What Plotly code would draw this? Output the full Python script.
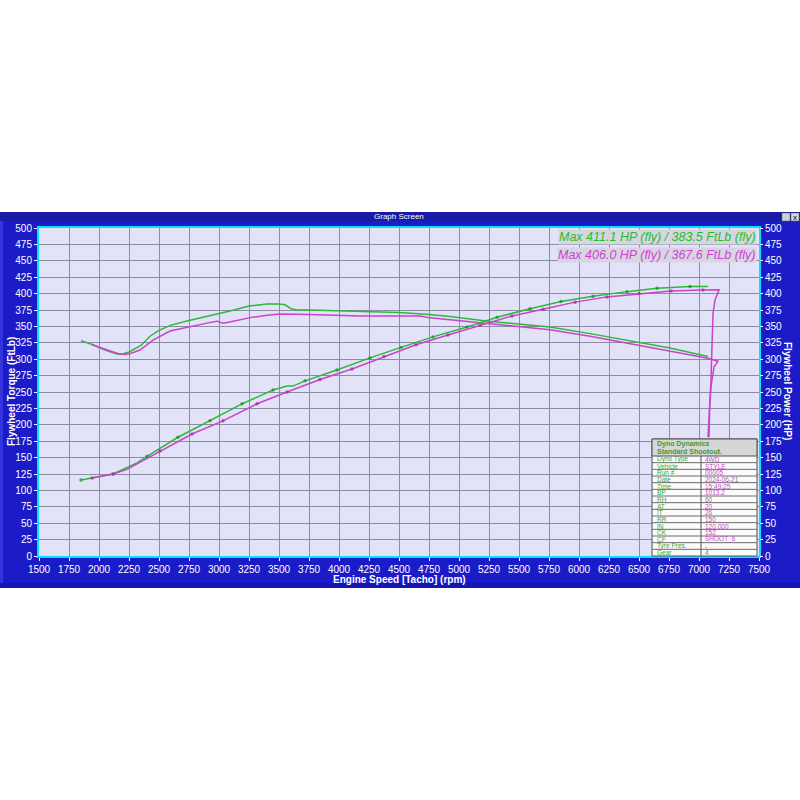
import plotly.graph_objects as go

# ---------------- data ----------------
rpm_g_tq = [1850, 1950, 2050, 2150, 2200, 2250, 2350, 2425, 2500, 2600, 2750, 3000, 3100, 3250, 3400,
            3500, 3550, 3600, 3650, 3750, 4000, 4250, 4500, 4750, 4925, 5242, 5483, 5758, 6092, 6425,
            6758, 7075]
tq_g = [328, 322, 314, 308, 308, 311, 321, 335, 344, 352, 359, 369, 374, 381, 384,
        384, 383, 377, 375, 375, 374, 373, 371, 368, 365, 358, 354, 349, 339, 328.5,
        317, 304]

rpm_m_tq = [1942, 2050, 2150, 2200, 2250, 2342, 2450, 2592, 2758, 2900, 2983, 3033, 3100, 3250, 3400,
            3508, 3750, 4000, 4175, 4500, 4675, 4758, 4925, 5242, 5483, 5758, 6092, 6425, 6758, 7075,
            7158, 7125, 7100, 7090, 7083]
tq_m = [322, 315, 309, 307, 308, 314, 329, 343, 350, 355, 358, 355, 357, 363, 367,
        369, 368, 367, 366, 366, 366, 363, 360, 355, 351, 345, 335, 323.5, 312, 301.5,
        297, 288, 258, 230, 181]

rpm_g_pw = [1850, 2117, 2317, 2400, 2658, 2925, 3192, 3450, 3567, 3617, 3717, 3983, 4258, 4517, 4783,
            5067, 5317, 5592, 5850, 6117, 6400, 6650, 6925, 7075]
pw_g = [116, 125, 142, 152, 181, 206, 232, 253, 259, 259, 267, 283.5, 302, 318, 334,
        349, 364, 377, 388, 396, 403, 408, 411, 411]
dots_g = [1, 1, 0, 1, 1, 1, 1, 1, 0, 0, 1, 1, 1, 1, 1, 1, 1, 1, 1, 1, 1, 1, 1, 0]

rpm_m_pw = [1942, 2117, 2233, 2508, 2775, 3033, 3317, 3567, 3842, 4108, 4375, 4642, 4908, 5175, 5442,
            5700, 5967, 6233, 6500, 6767, 7033, 7167, 7133, 7117, 7108, 7100, 7075]
pw_m = [119, 125, 132, 160, 186, 206, 232, 250, 269, 285, 304, 322, 337, 352, 366,
        376, 387, 395, 400, 404, 405.5, 406, 390, 370, 319, 268, 181]
dots_m = [1, 1, 0, 1, 1, 1, 1, 1, 1, 1, 1, 1, 1, 1, 1, 1, 1, 1, 1, 1, 1, 0, 0, 0, 0, 0, 0]

legend_texts = ["Max 411.1 HP (fly) / 383.5 FtLb (fly)", "Max 406.0 HP (fly) / 367.6 FtLb (fly)"]

table_title = ["Dyno Dynamics", "Standard Shootout."]
table_labels = ["Dyno Type", "Vehicle", "Run #", "Date", "Time", "BP", "RH", "AT", "IT", "RR",
                "IN", "CK", "CF", "Tyre Pres.", "Gear"]
table_values = ["4WD", "STYLE", "00005", "2024-06-21", "15:49:25", "1013.2", "60", "20", "26", "150",
                "120.000", "152", "SHOOT_6", "-", "4"]

# ---------------- style ----------------
GREEN = "#2db83a"
MAGENTA = "#c844c8"
GREEN_D = "#178f22"
MAGENTA_D = "#a02aa0"
GREEN_T = "#1fbf1f"
MAGENTA_T = "#d23ed2"
BLUE = "#1b1bc8"
BAR = "#1a1aa6"
LAV = "#e2e2f8"
GRID = "#8c8ca2"
CYAN = "#00e5ff"
FONT = "Arial, Liberation Sans, sans-serif"

# plot area in pixels
PL, PR, PT, PB = 39, 759, 228, 556


def px(xp):
    return (xp - PL) / (PR - PL)


def py(yp):
    return (PB - yp) / (PB - PT)


fig = go.Figure()
fig.add_trace(go.Scatter(x=rpm_g_tq, y=tq_g, mode="lines", line=dict(color=GREEN, width=1.5)))
fig.add_trace(go.Scatter(x=rpm_m_tq, y=tq_m, mode="lines", line=dict(color=MAGENTA, width=1.5)))
fig.add_trace(go.Scatter(x=rpm_g_pw, y=pw_g, mode="lines+markers", yaxis="y2",
                         line=dict(color=GREEN, width=1.5),
                         marker=dict(color=GREEN_D, size=[3.5 if d else 0 for d in dots_g], symbol="circle",
                                     line=dict(width=0))))
fig.add_trace(go.Scatter(x=rpm_m_pw, y=pw_m, mode="lines+markers", yaxis="y2",
                         line=dict(color=MAGENTA, width=1.5),
                         marker=dict(color=MAGENTA_D, size=[3.5 if d else 0 for d in dots_m], symbol="circle",
                                     line=dict(width=0))))

shapes = [
    # window
    dict(type="rect", xref="paper", yref="paper", x0=px(0), x1=px(800), y0=py(588), y1=py(212),
         fillcolor=BLUE, line=dict(width=0), layer="below"),
    dict(type="rect", xref="paper", yref="paper", x0=px(0), x1=px(800), y0=py(221), y1=py(212),
         fillcolor=BAR, line=dict(width=0), layer="below"),
    dict(type="rect", xref="paper", yref="paper", x0=px(0), x1=px(3), y0=py(588), y1=py(221),
         fillcolor="#3434dc", line=dict(width=0), layer="below"),
    dict(type="rect", xref="paper", yref="paper", x0=px(0), x1=px(800), y0=py(588), y1=py(583),
         fillcolor="#1616b4", line=dict(width=0), layer="below"),
    # buttons
    dict(type="rect", xref="paper", yref="paper", x0=px(782), x1=px(790), y0=py(221), y1=py(213),
         fillcolor="#d0d0d0", line=dict(width=0.5, color="#606060"), layer="below"),
    dict(type="rect", xref="paper", yref="paper", x0=px(791), x1=px(799), y0=py(221), y1=py(213),
         fillcolor="#d8d8d8", line=dict(width=0.5, color="#606060"), layer="below"),
    # plot area bg
    dict(type="rect", xref="paper", yref="paper", x0=0, x1=1, y0=0, y1=1,
         fillcolor=LAV, line=dict(width=0), layer="below"),
]

annotations = [
    dict(text="Graph Screen", x=0.5, y=py(216.5), xref="paper", yref="paper", showarrow=False,
         font=dict(family=FONT, size=8, color="white"), xanchor="center", yanchor="middle"),
    dict(text="x", x=px(795), y=py(217), xref="paper", yref="paper", showarrow=False,
         font=dict(family=FONT, size=8, color="black"), xanchor="center", yanchor="middle"),
    dict(text="<b>Flywheel Torque (FtLb)</b>", x=px(11), y=py(392), xref="paper", yref="paper",
         showarrow=False, textangle=-90, font=dict(family=FONT, size=10, color="white"),
         xanchor="center", yanchor="middle"),
    dict(text="<b>Flywheel Power (HP)</b>", x=px(788), y=py(391), xref="paper", yref="paper",
         showarrow=False, textangle=90, font=dict(family=FONT, size=10, color="white"),
         xanchor="center", yanchor="middle"),
    dict(text="<b>Engine Speed [Tacho] (rpm)</b>", x=0.5, y=py(579), xref="paper", yref="paper",
         showarrow=False, font=dict(family=FONT, size=10, color="white"),
         xanchor="center", yanchor="middle"),
]

legend_colors = [GREEN_T, MAGENTA_T]
legend_y = [237, 255]
for t, c, yy in zip(legend_texts, legend_colors, legend_y):
    annotations.append(dict(text="<i>" + t + "</i>", x=px(757), y=py(yy), xref="paper", yref="paper",
                            showarrow=False, font=dict(family=FONT, size=12.5, color=c),
                            xanchor="right", yanchor="middle", bgcolor="#d6d6e2", borderpad=0))

# table
TX0, TX1, TSPLIT = 652, 757, 701
TH0, TH1 = 439, 456
ROW_H = (556 - TH1) / len(table_labels)
shapes.append(dict(type="rect", xref="paper", yref="paper", x0=px(TX0), x1=px(TX1), y0=py(556), y1=py(TH0),
                   fillcolor="#fbfbfb", line=dict(width=1, color="#505050"), layer="above"))
shapes.append(dict(type="rect", xref="paper", yref="paper", x0=px(TX0), x1=px(TX1), y0=py(TH1), y1=py(TH0),
                   fillcolor="#d6d6d6", line=dict(width=1, color="#505050"), layer="above"))
shapes.append(dict(type="line", xref="paper", yref="paper", x0=px(TSPLIT), x1=px(TSPLIT), y0=py(556), y1=py(TH1),
                   line=dict(width=1, color="#505050"), layer="above"))
for i in range(1, len(table_labels)):
    yy = TH1 + i * ROW_H
    shapes.append(dict(type="line", xref="paper", yref="paper", x0=px(TX0), x1=px(TX1), y0=py(yy), y1=py(yy),
                       line=dict(width=1, color="#6a6a6a"), layer="above"))
title_y = [444, 451]
for t, yy in zip(table_title, title_y):
    annotations.append(dict(text="<b>" + t + "</b>", x=px(TX0 + 3), y=py(yy), xref="paper",
                            yref="paper", showarrow=False, font=dict(family=FONT, size=7, color="#3a9a3a"),
                            xanchor="left", yanchor="middle"))
for i, (lab, val) in enumerate(zip(table_labels, table_values)):
    yy = TH1 + (i + 0.5) * ROW_H
    annotations.append(dict(text=lab, x=px(TX0 + 3), y=py(yy), xref="paper", yref="paper", showarrow=False,
                            font=dict(family=FONT, size=6.5, color="#3aa53a"), xanchor="left", yanchor="middle"))
    annotations.append(dict(text=val, x=px(TSPLIT + 2), y=py(yy), xref="paper", yref="paper", showarrow=False,
                            font=dict(family=FONT, size=6.5, color="#c050c0"), xanchor="left", yanchor="middle"))

tickfont = dict(family=FONT, size=10, color="white")
fig.update_layout(
    width=800, height=800,
    margin=dict(l=PL, r=800 - PR, t=PT, b=800 - PB),
    paper_bgcolor="white", plot_bgcolor=LAV,
    showlegend=False,
    xaxis=dict(range=[1500, 7500], tick0=1500, dtick=250, showgrid=True, gridcolor=GRID, gridwidth=1,
               zeroline=False, showline=True, mirror=True, linecolor=CYAN, linewidth=2,
               ticks="outside", ticklen=3, tickcolor="white", tickfont=tickfont),
    yaxis=dict(range=[0, 500], tick0=0, dtick=25, showgrid=True, gridcolor=GRID, gridwidth=1,
               zeroline=False, showline=True, mirror=True, linecolor=CYAN, linewidth=2,
               ticks="outside", ticklen=3, tickcolor="white", tickfont=tickfont),
    yaxis2=dict(range=[0, 500], tick0=0, dtick=25, overlaying="y", side="right", showgrid=False,
                zeroline=False, showline=False, ticks="outside", ticklen=3, tickcolor="white",
                tickfont=tickfont),
    shapes=shapes,
    annotations=annotations,
)

fig.write_html("out.html", config={"displayModeBar": False},
               post_script="document.body.style.margin='0';")
